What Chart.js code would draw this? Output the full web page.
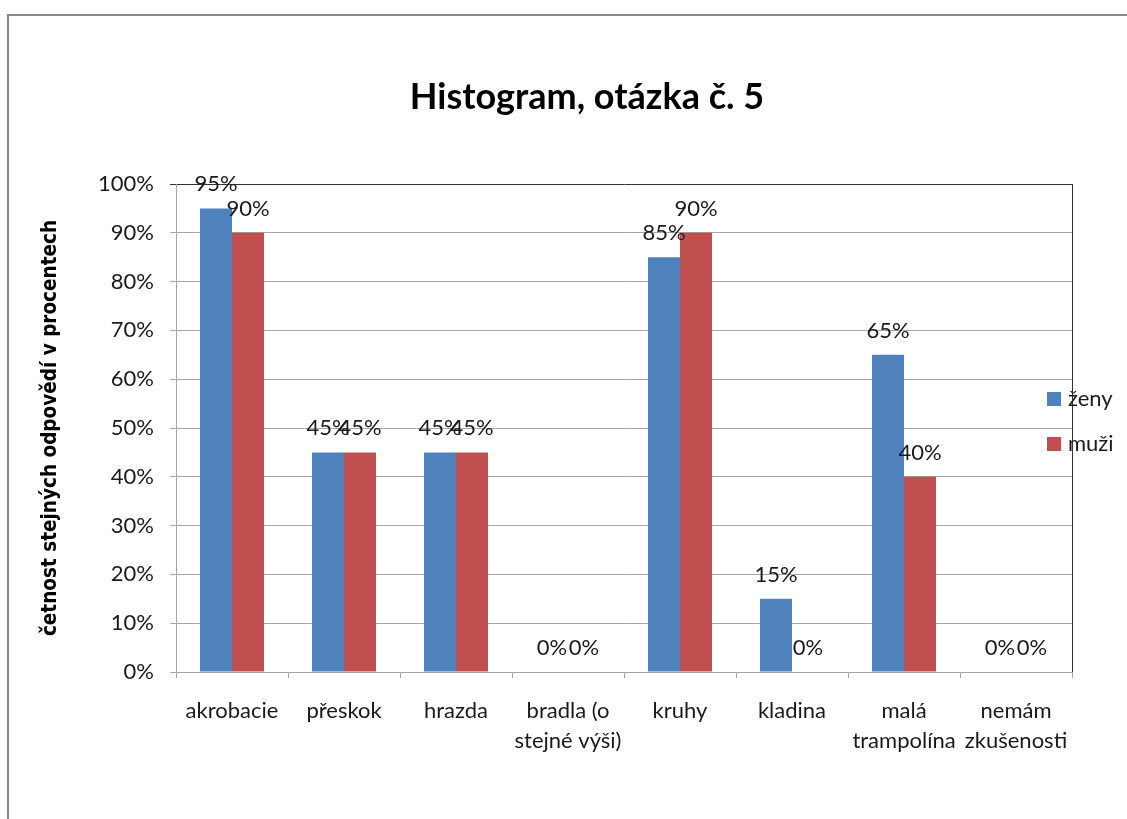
<!DOCTYPE html>
<html>
<head>
<meta charset="utf-8">
<script src="https://cdn.jsdelivr.net/npm/chart.js@4"></script>
<style>
    html, body { margin: 0; padding: 0; background: #fff; overflow: hidden; }
    #frame { position: absolute; left: 7px; top: 14px; width: 2000px; height: 2000px;
             border-left: 2px solid #888; border-top: 2px solid #888; }
    #wrap { position: absolute; left: 0; top: 0; width: 1127px; height: 819px; }
</style>
</head>
<body>
<div id="frame"></div>
<div id="wrap"><canvas id="myChart" width="1127" height="819"></canvas></div>
<script>
const labels = [
    'akrobacie',
    'přeskok',
    'hrazda',
    ['bradla (o', 'stejné výši)'],
    'kruhy',
    'kladina',
    ['malá', 'trampolína'],
    ['nemám', 'zkušenosti'],
];
const zenyValues = [95, 45, 45, 0, 85, 15, 65, 0];
const muziValues = [90, 45, 45, 0, 90, 0, 40, 0];
const seriesNames = ['ženy', 'muži'];
const chartTitle = 'Histogram, otázka č. 5';
const yTitle = 'četnost stejných odpovědí v procentech';

const textColor = '#1a1a1a';
const gridColor = '#a6a6a6';
const edgeColor = '#333';
const fontFamily = 'Lato, "Open Sans", sans-serif';

Chart.defaults.font.family = fontFamily;
Chart.defaults.font.size = 22;
Chart.defaults.color = textColor;

// value labels above bars, title and legend drawn by hand
const extras = {
    id: 'extras',
    afterDatasetsDraw(chart) {
        const ctx = chart.ctx;
        ctx.save();
        ctx.font = '22px ' + fontFamily;
        ctx.fillStyle = textColor;
        ctx.textAlign = 'center';
        ctx.textBaseline = 'middle';
        chart.data.datasets.forEach((ds, i) => {
            chart.getDatasetMeta(i).data.forEach((bar, j) => {
                ctx.fillText(ds.data[j] + '%', bar.x, bar.y - 24);
            });
        });
        ctx.restore();
    },
    afterDraw(chart) {
        const ctx = chart.ctx;
        const area = chart.chartArea;
        ctx.save();
        ctx.fillStyle = '#000';
        ctx.textAlign = 'center';
        ctx.textBaseline = 'alphabetic';
        ctx.font = 'bold 36px ' + fontFamily;
        ctx.fillText(chartTitle, 587, 109);

        ctx.font = '22px ' + fontFamily;
        ctx.textAlign = 'left';
        ctx.textBaseline = 'middle';
        chart.data.datasets.forEach((ds, i) => {
            const y = 399 + i * 45;
            ctx.fillStyle = ds.backgroundColor;
            ctx.fillRect(area.right - 25, y - 7, 14, 14);
            ctx.fillStyle = textColor;
            ctx.fillText(ds.label, area.right - 4, y);
        });
        ctx.restore();
    }
};

const dataChart = {
    labels: labels,
    datasets: [{
        label: seriesNames[0],
        backgroundColor: '#4f81bd',
        data: zenyValues,
    },
    {
        label: seriesNames[1],
        backgroundColor: '#c0504d',
        data: muziValues,
    }]
};

const config = {
    type: 'bar',
    data: dataChart,
    options: {
        responsive: false,
        animation: false,
        categoryPercentage: 0.5714,
        barPercentage: 1,
        layout: { padding: { left: 8, right: 55, top: 184, bottom: 0 } },
        plugins: {
            legend: { display: false },
            title: { display: false },
            tooltip: { enabled: false }
        },
        scales: {
            x: {
                grid: {
                    color: ctx => ctx.tick ? 'transparent' : edgeColor,
                    tickColor: gridColor,
                    tickLength: 6
                },
                border: { color: gridColor },
                ticks: {
                    padding: 18,
                    maxRotation: 0,
                    autoSkip: false,
                    font: { size: 22, lineHeight: 1.36 }
                },
                afterFit(scale) { scale.height = 147; }
            },
            y: {
                min: 0,
                max: 100,
                ticks: {
                    stepSize: 10,
                    padding: 16,
                    callback: v => v + '%'
                },
                grid: {
                    color: ctx => ctx.tick && ctx.tick.value === 100 ? edgeColor : gridColor,
                    tickLength: 6
                },
                border: { color: gridColor },
                title: {
                    display: true,
                    text: yTitle,
                    color: '#000',
                    padding: { top: 30, bottom: 0 },
                    font: { family: '"Liberation Sans Narrow", "DejaVu Sans Condensed", ' + fontFamily, size: 20.5, weight: 'bold' }
                },
                afterFit(scale) { scale.width = 168; }
            }
        }
    },
    plugins: [extras]
};

const myChart = new Chart(
    document.getElementById('myChart'),
    config
);
</script>
</body>
</html>
